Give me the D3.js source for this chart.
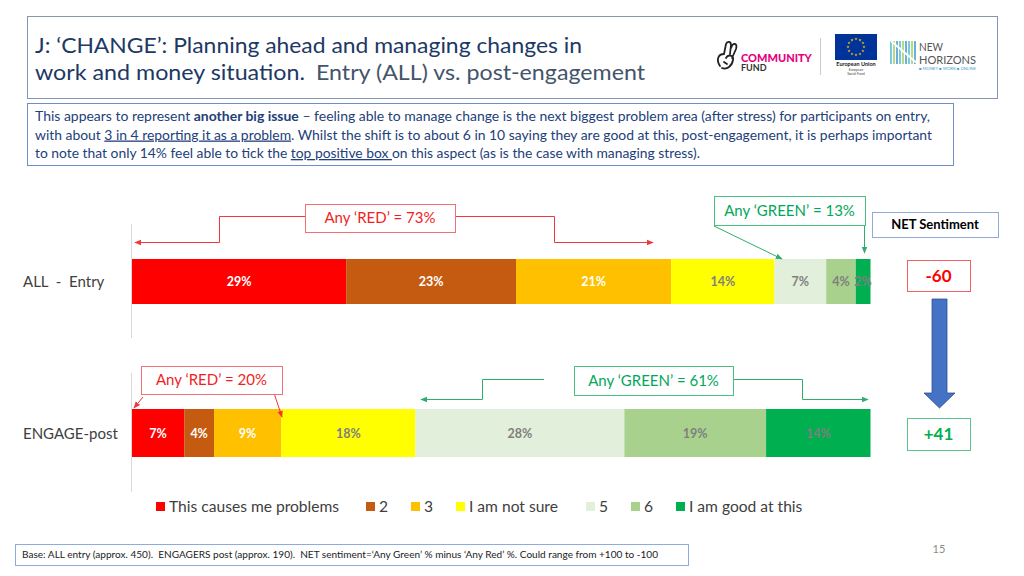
<!DOCTYPE html>
<html><head><meta charset="utf-8">
<script src="https://cdn.jsdelivr.net/npm/d3@7"></script>
<style>
html,body{margin:0;padding:0;background:#fff;}
svg{display:block;font-family:Lato,"Open Sans",sans-serif;}
</style></head>
<body>
<svg id="chart" width="1024" height="576"></svg>
<script>
// ---------------- DATA ----------------
const categories = ["ALL  -  Entry", "ENGAGE-post"];
const seriesNames = ["This causes me problems", "2", "3", "I am not sure", "5", "6", "I am good at this"];
const entryValues = [29, 23, 21, 14, 7, 4, 2];
const postValues = [7, 4, 9, 18, 28, 19, 14];
const seriesColors = ["#FF0000", "#C55A11", "#FFC000", "#FFFF00", "#E2EFDA", "#A9D18E", "#00B050"];
const labelColors = ["#FFFFFF", "#FFFFFF", "#FFFFFF", "#7F7F7F", "#7F7F7F", "#7F7F7F", "#7F7F7F"];
const anyRed = [73, 20];
const anyGreen = [13, 61];
const netSentiment = [-60, 41];

const svg = d3.select("#chart");
const navy = "#203864";

// ---------------- HEADER ----------------
svg.append("rect").attr("x", 27.5).attr("y", 16.5).attr("width", 970).attr("height", 82)
  .attr("fill", "none").attr("stroke", "#8496B0").attr("stroke-width", 1);

function fitText(sel, w) { sel.attr("textLength", w).attr("lengthAdjust", "spacingAndGlyphs"); return sel; }

fitText(svg.append("text").attr("x", 35).attr("y", 53).attr("font-size", 22).attr("fill", navy)
  .text("J: \u2018CHANGE\u2019: Planning ahead and managing changes in"), 547);
fitText(svg.append("text").attr("x", 35).attr("y", 80).attr("font-size", 22).attr("fill", navy)
  .text("work and money situation."), 270);
fitText(svg.append("text").attr("x", 316).attr("y", 80).attr("font-size", 22).attr("fill", "#44546A")
  .text("Entry (ALL) vs. post-engagement"), 329);

// logos (approximations)
const logo = svg.append("g");
logo.append("path").attr("d", "M720,66 C716,60 718,54 724,54 L726,44 C727,41 731,41 731,45 L730,54 M731,48 C733,42 738,43 736,49 L732,58 M726,58 C728,54 734,55 733,60 C732,66 727,70 722,68 M724,62 l3,2")
  .attr("fill", "none").attr("stroke", "#222").attr("stroke-width", 1.8).attr("stroke-linecap", "round");
logo.append("text").attr("x", 741).attr("y", 62).attr("font-size", 11).attr("font-weight", 900)
  .attr("fill", "#E6007E").text("COMMUNITY");
logo.append("text").attr("x", 741).attr("y", 71).attr("font-size", 9).attr("font-weight", 700)
  .attr("fill", "#333").text("FUND");
logo.append("line").attr("x1", 820.5).attr("x2", 820.5).attr("y1", 38).attr("y2", 75).attr("stroke", "#ccc");
logo.append("rect").attr("x", 835).attr("y", 34).attr("width", 42).attr("height", 26).attr("fill", "#003399");
const star = d3.symbol().type(d3.symbolStar).size(3);
d3.range(12).forEach(i => {
  const a = i / 12 * 2 * Math.PI;
  logo.append("path").attr("d", star).attr("fill", "#FFCC00")
    .attr("transform", `translate(${856 + 8 * Math.cos(a)},${47 + 8 * Math.sin(a)})`);
});
logo.append("text").attr("x", 856).attr("y", 66).attr("text-anchor", "middle").attr("font-size", 5.5)
  .attr("font-weight", 700).attr("fill", "#222").text("European Union");
logo.append("text").attr("x", 856).attr("y", 71).attr("text-anchor", "middle").attr("font-size", 3.5)
  .attr("fill", "#444").text("European");
logo.append("text").attr("x", 856).attr("y", 75).attr("text-anchor", "middle").attr("font-size", 3.5)
  .attr("fill", "#444").text("Social Fund");
const nhCols = ["#3FB7C9", "#9ACB4E", "#2C8FC9", "#3FB7C9", "#9ACB4E", "#2C8FC9", "#3FB7C9", "#9ACB4E", "#2C8FC9"];
nhCols.forEach((c, i) => {
  logo.append("line").attr("x1", 891 + i * 3).attr("x2", 891 + i * 3).attr("y1", 41).attr("y2", 64)
    .attr("stroke", c).attr("stroke-width", 1.4);
});
logo.append("line").attr("x1", 891).attr("x2", 918).attr("y1", 41).attr("y2", 64).attr("stroke", "#fff").attr("stroke-width", 2);
logo.append("text").attr("x", 919).attr("y", 51).attr("font-size", 11).attr("fill", "#555")
  .attr("textLength", 24).attr("lengthAdjust", "spacingAndGlyphs").text("NEW");
logo.append("text").attr("x", 919).attr("y", 64).attr("font-size", 11).attr("fill", "#555")
  .attr("textLength", 57).attr("lengthAdjust", "spacingAndGlyphs").text("HORIZONS");
logo.append("text").attr("x", 919).attr("y", 70).attr("font-size", 4).attr("fill", "#3FA0D0")
  .attr("textLength", 57).attr("lengthAdjust", "spacingAndGlyphs").text("\u25A0 MONEY \u25A0 WORK \u25A0 ONLINE");

// ---------------- PARAGRAPH ----------------
svg.append("rect").attr("x", 27.5).attr("y", 103.5).attr("width", 926).attr("height", 62)
  .attr("fill", "none").attr("stroke", "#6F8DC8").attr("stroke-width", 1);
const paraLines = [
  { w: 895, parts: [["This appears to represent ", ""], ["another big issue", "b"], [" \u2013 feeling able to manage change is the next biggest problem area (after stress) for participants on entry,", ""]] },
  { w: 897, parts: [["with about ", ""], ["3 in 4 reporting it as a problem", "u"], [". Whilst the shift is to about 6 in 10 saying they are good at this, post-engagement, it is perhaps important", ""]] },
  { w: 665, parts: [["to note that only 14% feel able to tick the ", ""], ["top positive box ", "u"], ["on this aspect (as is the case with managing stress).", ""]] }
];
paraLines.forEach((ln, i) => {
  const t = svg.append("text").attr("x", 35).attr("y", 121 + i * 18.5).attr("font-size", 13).attr("fill", "#22407A")
    .attr("textLength", ln.w).attr("lengthAdjust", "spacingAndGlyphs");
  ln.parts.forEach(p => {
    const ts = t.append("tspan").text(p[0]);
    if (p[1] === "b") ts.attr("font-weight", 700);
    if (p[1] === "u") ts.attr("text-decoration", "underline");
  });
});

// ---------------- BARS ----------------
const rows = [entryValues, postValues];
const x0 = 132, x1 = 870.5;
const y = d3.scalePoint().domain(categories).range([281.5, 433]);
const barH = [45, 48];

[[224, 338], [373, 492]].forEach(r => {
  svg.append("line").attr("x1", 131.5).attr("x2", 131.5).attr("y1", r[0]).attr("y2", r[1])
    .attr("stroke", "#D9D9D9").attr("stroke-width", 1);
});

rows.forEach((vals, ri) => {
  const total = d3.sum(vals);
  const x = d3.scaleLinear().domain([0, total]).range([x0, x1]);
  const stack = [];
  let acc = 0;
  vals.forEach((v, i) => { stack.push({ i, v, s: acc, e: acc + v }); acc += v; });
  const cy = y(categories[ri]);
  const g = svg.append("g");
  g.selectAll("rect").data(stack).enter().append("rect")
    .attr("x", d => x(d.s)).attr("width", d => x(d.e) - x(d.s))
    .attr("y", cy - barH[ri] / 2).attr("height", barH[ri])
    .attr("fill", d => seriesColors[d.i]);
  g.selectAll("text").data(stack).enter().append("text")
    .attr("x", d => (x(d.s) + x(d.e)) / 2).attr("y", cy + 4.5)
    .attr("text-anchor", "middle").attr("font-size", 12.5).attr("font-weight", 700)
    .attr("fill", d => labelColors[d.i]).text(d => d.v + "%");
  svg.append("text").attr("x", 23).attr("y", cy + 5.5).attr("font-size", 15).attr("fill", "#404040")
    .attr("xml:space", "preserve").text(categories[ri]);
});

// ---------------- ANNOTATIONS ----------------
const defs = svg.append("defs");
function marker(id, col) {
  defs.append("marker").attr("id", id).attr("viewBox", "0 0 10 10").attr("refX", 9).attr("refY", 5)
    .attr("markerWidth", 7).attr("markerHeight", 7).attr("orient", "auto-start-reverse")
    .append("path").attr("d", "M0,1 L10,5 L0,9 z").attr("fill", col);
}
const redC = "#F0373C", greenC = "#2EAE6A";
marker("ar", redC); marker("ag", greenC);

function box(xx, yy, w, h, stroke, txt, col, size, bold) {
  svg.append("rect").attr("x", xx + 0.5).attr("y", yy + 0.5).attr("width", w).attr("height", h)
    .attr("fill", "#fff").attr("stroke", stroke).attr("stroke-width", 1);
  svg.append("text").attr("x", xx + w / 2).attr("y", yy + h / 2 + size * 0.36).attr("text-anchor", "middle")
    .attr("font-size", size).attr("font-weight", bold ? 700 : 400).attr("fill", col).text(txt);
}
function path(pts, col, mk) {
  svg.append("path").attr("d", d3.line()(pts)).attr("fill", "none").attr("stroke", col)
    .attr("stroke-width", 1).attr("marker-end", `url(#${mk})`);
}

path([[305, 216.5], [219.5, 216.5], [219.5, 242.5], [135, 242.5]], redC, "ar");
path([[455, 216.5], [554.5, 216.5], [554.5, 242.5], [653, 242.5]], redC, "ar");
box(305, 204, 150, 28, "#F07075", `Any \u2018RED\u2019 = ${anyRed[0]}%`, "#F01E23", 15, false);

path([[714, 226], [782, 259]], greenC, "ag");
path([[864.5, 224], [864.5, 253]], greenC, "ag");
box(714, 196, 151, 29, "#4CBF85", `Any \u2018GREEN\u2019 = ${anyGreen[0]}%`, "#00A85A", 15, false);

path([[143, 397], [134, 408]], redC, "ar");
path([[273, 390], [282, 417]], redC, "ar");
box(141, 366, 141, 28, "#F07075", `Any \u2018RED\u2019 = ${anyRed[1]}%`, "#F01E23", 15, false);

path([[733, 379.5], [802.5, 379.5], [802.5, 399.5], [868, 399.5]], greenC, "ag");
path([[544, 379.5], [482.5, 379.5], [482.5, 399.5], [421, 399.5]], greenC, "ag");
box(574, 366, 159, 29, "#4CBF85", `Any \u2018GREEN\u2019 = ${anyGreen[1]}%`, "#00A85A", 15, false);

box(872, 212, 126, 25, "#8FAADC", "NET Sentiment", "#000", 13, true);
box(907, 260, 63, 31, "#F06065", String(netSentiment[0]), "#FF0000", 17, true);
box(907, 418, 63, 32, "#5CC48F", "+" + netSentiment[1], "#00B050", 17, true);
svg.append("path").attr("d", "M932,299 L947,299 L947,393 L955,393 L939.5,408 L924,393 L932,393 Z")
  .attr("fill", "#4472C4").attr("stroke", "#2F528F").attr("stroke-width", 0.8);

// ---------------- LEGEND ----------------
const legendX = [156, 366, 411, 456, 586, 631, 676];
const lg = svg.append("g");
seriesNames.forEach((n, i) => {
  lg.append("rect").attr("x", legendX[i]).attr("y", 502).attr("width", 9).attr("height", 9).attr("fill", seriesColors[i]);
  lg.append("text").attr("x", legendX[i] + 13).attr("y", 512).attr("font-size", 15.6).attr("fill", "#404040").text(n);
});

// ---------------- FOOTER ----------------
svg.append("rect").attr("x", 15.5).attr("y", 544.5).attr("width", 673).attr("height", 21)
  .attr("fill", "none").attr("stroke", "#8FAADC").attr("stroke-width", 1);
svg.append("text").attr("x", 22).attr("y", 558).attr("font-size", 9).attr("fill", "#222")
  .attr("xml:space", "preserve").attr("textLength", 636).attr("lengthAdjust", "spacingAndGlyphs")
  .text("Base: ALL entry (approx. 450).  ENGAGERS post (approx. 190).  NET sentiment=\u2018Any Green\u2019 % minus \u2018Any Red\u2019 %. Could range from +100 to -100");
svg.append("text").attr("x", 939).attr("y", 553).attr("text-anchor", "middle").attr("font-size", 11)
  .attr("fill", "#8C8C8C").text("15");
</script>
</body></html>
